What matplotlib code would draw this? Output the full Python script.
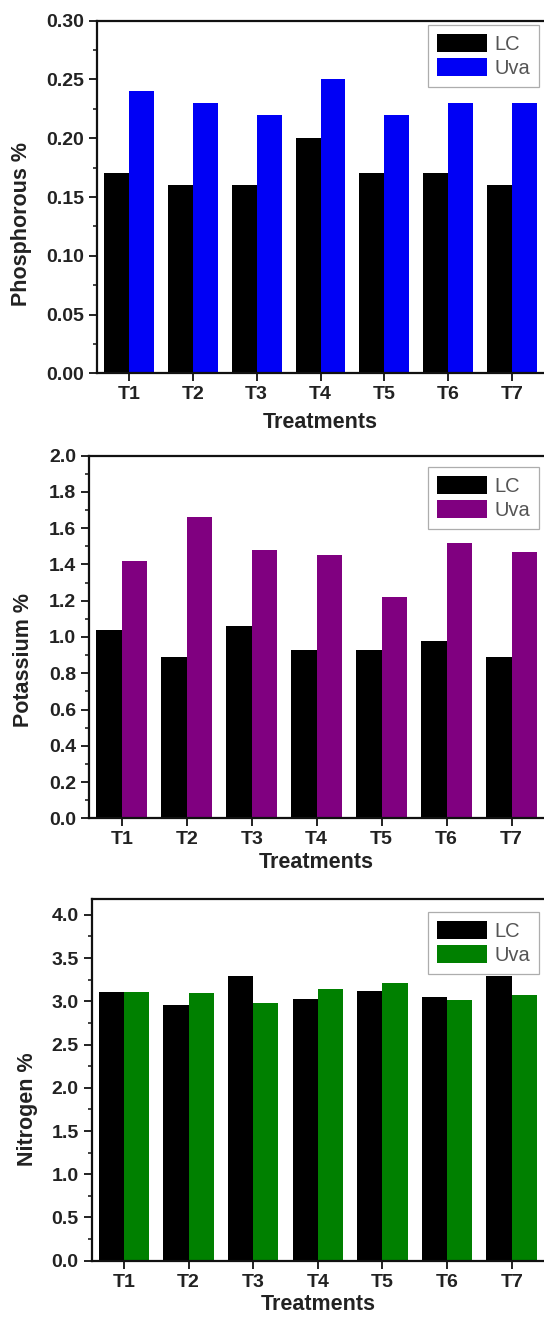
import matplotlib
matplotlib.use("Agg")
import matplotlib.pyplot as plt
import numpy as np
from matplotlib.ticker import MultipleLocator, FormatStrFormatter

# ---- data ----
treatments = ["T1", "T2", "T3", "T4", "T5", "T6", "T7"]
series_names = ["LC", "Uva"]

phosphorous_lc = [0.17, 0.16, 0.16, 0.20, 0.17, 0.17, 0.16]
phosphorous_uva = [0.24, 0.23, 0.22, 0.25, 0.22, 0.23, 0.23]

potassium_lc = [1.04, 0.89, 1.06, 0.93, 0.93, 0.98, 0.89]
potassium_uva = [1.42, 1.66, 1.48, 1.45, 1.22, 1.52, 1.47]

nitrogen_lc = [3.11, 2.96, 3.29, 3.03, 3.12, 3.05, 3.29]
nitrogen_uva = [3.11, 3.10, 2.98, 3.14, 3.21, 3.01, 3.07]

W, H = 544, 1319
DPI = 100
fig = plt.figure(figsize=(W / DPI, H / DPI), dpi=DPI)
fig.patch.set_facecolor("white")

FONT = "Liberation Sans"

panels = [
    dict(lc=phosphorous_lc, uva=phosphorous_uva, color="#0000F5", ylabel="Phosphorous %",
         ylim=(0, 0.30), major=0.05, minor=0.025, fmt="%.2f",
         box=(97, 544, 20.7, 373.3), ylab=(22, 224), xlab=(320, 423), leg_top=25),
    dict(lc=potassium_lc, uva=potassium_uva, color="#800080", ylabel="Potassium %",
         ylim=(0, 2.0), major=0.2, minor=0.1, fmt="%.1f",
         box=(89.3, 544, 455.7, 818.3), ylab=(24, 660), xlab=(316, 863), leg_top=467),
    dict(lc=nitrogen_lc, uva=nitrogen_uva, color="#008000", ylabel="Nitrogen %",
         ylim=(0, 4.18), major=0.5, minor=0.25, fmt="%.1f",
         box=(91.7, 544, 899.3, 1260.7), ylab=(27, 1109), xlab=(318, 1305), leg_top=912),
]

x = np.arange(1, len(treatments) + 1)
bw = 0.39

for p in panels:
    l, r, t, b = p["box"]
    ax = fig.add_axes([l / W, 1 - b / H, (r - l) / W, (b - t) / H])
    h1 = ax.bar(x - bw / 2, p["lc"], width=bw, color="black", edgecolor="none", label=series_names[0])
    h2 = ax.bar(x + bw / 2, p["uva"], width=bw, color=p["color"], edgecolor="none", label=series_names[1])
    ax.set_xlim(0.5, 7.5)
    ax.set_ylim(*p["ylim"])
    ax.set_xticks(x)
    ax.set_xticklabels(treatments)
    ax.yaxis.set_major_locator(MultipleLocator(p["major"]))
    ax.yaxis.set_minor_locator(MultipleLocator(p["minor"]))
    ax.yaxis.set_major_formatter(FormatStrFormatter(p["fmt"]))
    ax.spines["right"].set_visible(False)
    for s in ["left", "bottom", "top"]:
        ax.spines[s].set_linewidth(1.6)
        ax.spines[s].set_color("#111111")
    ax.tick_params(axis="both", which="major", direction="out", length=6, width=1.4,
                   labelsize=14, pad=3.5, colors="#222222")
    ax.tick_params(axis="y", which="minor", direction="out", length=3, width=1.2, colors="#222222")
    ax.tick_params(axis="x", which="minor", bottom=False)
    ax.tick_params(top=False, right=False)
    for lab in ax.get_xticklabels() + ax.get_yticklabels():
        lab.set_fontfamily(FONT)
        lab.set_fontweight("bold")
        lab.set_color("#222222")

    # axis labels
    fig.text(p["ylab"][0] / W, 1 - p["ylab"][1] / H, p["ylabel"], rotation=90,
             ha="center", va="center", fontsize=15.5, fontweight="bold",
             family=FONT, color="#222222")
    fig.text(p["xlab"][0] / W, 1 - p["xlab"][1] / H, "Treatments",
             ha="center", va="center", fontsize=15.5, fontweight="bold",
             family=FONT, color="#222222")

    leg = ax.legend(handles=[h1, h2], loc="upper right",
                    bbox_to_anchor=(539 / W, 1 - p["leg_top"] / H),
                    bbox_transform=fig.transFigure, borderaxespad=0,
                    prop={"family": FONT, "size": 14.5}, frameon=True, fancybox=False,
                    handlelength=2.5, handleheight=1.0, handletextpad=0.35,
                    labelspacing=0.2, borderpad=0.45)
    leg.get_frame().set_edgecolor("#999999")
    leg.get_frame().set_linewidth(0.9)
    for txt in leg.get_texts():
        txt.set_color("#555555")

fig.savefig("out.png", dpi=DPI, facecolor="white")
